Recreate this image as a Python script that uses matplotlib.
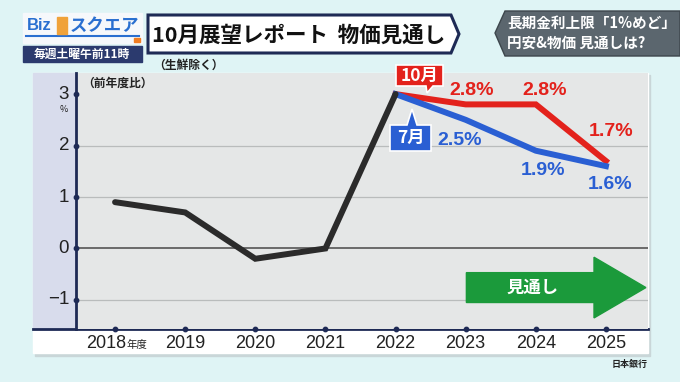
import matplotlib
matplotlib.use("Agg")
import matplotlib.pyplot as plt
from matplotlib.patches import Rectangle, Polygon, FancyArrow

plt.rcParams['font.family'] = ['Noto Sans CJK JP', 'DejaVu Sans']

# data
years_actual = [2018, 2019, 2020, 2021, 2022]
cpi_actual = [0.9, 0.7, -0.2, 0.0, 3.0]
years_fc = [2022, 2023, 2024, 2025]
cpi_oct = [3.0, 2.8, 2.8, 1.7]
cpi_jul = [3.0, 2.5, 1.9, 1.6]
year_ticks = [2018, 2019, 2020, 2021, 2022, 2023, 2024, 2025]
y_ticks = [-1, 0, 1, 2, 3]

W, H = 680, 382
BG = '#dff4f5'
NAVY = '#1e2a55'
RED = '#e3221c'
BLUE = '#2a5fd3'
GREEN = '#1b9a3b'
num_font = ['Liberation Sans', 'DejaVu Sans']

fig = plt.figure(figsize=(W / 100, H / 100), dpi=100)
fig.patch.set_facecolor(BG)

# background / decoration layer in pixel coords
bg = fig.add_axes([0, 0, 1, 1], zorder=0)
bg.set_xlim(0, W)
bg.set_ylim(H, 0)
bg.axis('off')

# panel: shadow, white strip, lavender band
bg.add_patch(Rectangle((35, 75), 615, 281, color='#c9d6d8', zorder=1))
bg.add_patch(Rectangle((33, 73), 615, 280, color='white', zorder=2))
bg.add_patch(Rectangle((33, 73), 43, 256, color='#d8dcec', zorder=3))

# logo
bg.add_patch(Rectangle((23, 13), 119, 30, color='#f6f8fb', zorder=2))
bg.plot([26, 139], [36, 36], color='#2a6fd0', lw=1.5, zorder=3)
bg.text(27, 26, 'Biz', color='#2a6fd0', fontsize=12, weight='bold', va='center',
        family=num_font, zorder=4)
bg.add_patch(Rectangle((57, 17), 10, 17, color='#f0a23a', zorder=3))
bg.text(70, 26, 'スクエア', color='#2a6fd0', fontsize=12.5, weight='bold',
        va='center', zorder=4)
bg.add_patch(Rectangle((134, 38), 6, 4, color='#f07d22', zorder=4))
bg.add_patch(Rectangle((23, 46), 119, 16, color='#2b3a6e', zorder=2))
bg.text(82, 54, '毎週土曜午前11時', color='white', fontsize=8.5, weight='bold',
        ha='center', va='center', zorder=3)

# title box
bg.add_patch(Polygon([(148, 15), (451, 15), (459, 34), (451, 53), (148, 53)],
                     closed=True, facecolor='white', edgecolor=NAVY, lw=2.2, zorder=2))
bg.text(152, 35, '10月展望レポート  物価見通し', color='#111111', fontsize=15.5,
        weight='bold', va='center', zorder=3)
bg.text(153, 65, '（生鮮除く）', color='#222222', fontsize=8.5, weight='bold',
        va='center', ha='left', zorder=3)

# right tag
bg.add_patch(Polygon([(495, 33), (505, 11), (680, 11), (680, 56), (505, 56)],
                     closed=True, facecolor='#5b666e', edgecolor='#3d464c', lw=1, zorder=2))
bg.text(507, 23, '長期金利上限「1%めど」', color='white', fontsize=10.5,
        weight='bold', ha='left', va='center', zorder=3)
bg.text(507, 43, '円安&物価 見通しは?', color='white', fontsize=10.5,
        weight='bold', ha='left', va='center', zorder=3)

bg.text(648, 364, '日本銀行', color='#222222', fontsize=6.5, weight='bold',
        ha='right', va='center', zorder=3)

# main chart
ax = fig.add_axes([76 / W, 1 - 329 / H, (648 - 76) / W, (329 - 73) / H], zorder=2)
ax.set_facecolor('#e5e7e7')
ax.set_xlim(2017.443, 2025.6)
ax.set_ylim(-1.565, 3.41)

for v in y_ticks:
    if v == 3:
        continue
    ax.axhline(v, color='#555555' if v == 0 else '#b9bcbc',
               lw=1.2 if v == 0 else 0.9, zorder=1)

for s in ['top', 'right', 'bottom']:
    ax.spines[s].set_visible(False)
ax.spines['left'].set_color(NAVY)
ax.spines['left'].set_linewidth(2)
ax.set_xticks([])
ax.set_yticks([])

# bottom axis line extends over lavender band
bg.plot([33, 648], [329, 329], color=NAVY, lw=2, zorder=5)

# tick dots
x0, x1 = ax.get_xlim()
y0, y1 = ax.get_ylim()
ax.scatter([x0] * len(y_ticks), y_ticks, s=10, color=NAVY, clip_on=False, zorder=6)
ax.scatter(year_ticks, [y0] * len(year_ticks), s=10, color=NAVY, clip_on=False, zorder=6)

for v in y_ticks:
    ax.annotate('\u2212' + str(abs(v)) if v < 0 else str(v), (x0, v),
                xytext=(-5, 0), textcoords='offset points', ha='right', va='center',
                fontsize=13.5, color='#222222', annotation_clip=False,
                family=num_font)
ax.annotate('%', (x0, 3), xytext=(-9, -11), textcoords='offset points',
            ha='center', va='center', fontsize=6.5, color='#222222',
            annotation_clip=False)
ax.text(0.01, 0.985, '（前年度比）', transform=ax.transAxes, fontsize=8.5,
        weight='bold', color='#222222', va='top', ha='left')

for yr in year_ticks:
    if yr == year_ticks[0]:
        ax.annotate(str(yr), (yr, y0), xytext=(8, -10.5), textcoords='offset points',
                    ha='right', va='center', fontsize=13, color='#222222',
                    annotation_clip=False, family=num_font)
        ax.annotate('年度', (yr, y0), xytext=(8.5, -11.5), textcoords='offset points',
                    ha='left', va='center', fontsize=7.5, color='#222222',
                    annotation_clip=False)
    else:
        ax.annotate(str(yr), (yr, y0), xytext=(0, -10.5), textcoords='offset points',
                    ha='center', va='center', fontsize=13, color='#222222',
                    annotation_clip=False, family=num_font)

# lines
ax.plot(years_fc, cpi_oct, color=RED, lw=4.3, solid_joinstyle='miter', zorder=4)
ax.plot(years_fc, cpi_jul, color=BLUE, lw=4.3, solid_joinstyle='miter', zorder=5)
ax.plot(years_actual, cpi_actual, color='#2b2b2b', lw=4.3, solid_joinstyle='miter',
        solid_capstyle='round', zorder=6)

# value labels
oct_offsets = [None, (4, 10), (6, 10), (4, 21)]
jul_offsets = [None, (-4, -15), (5, -14), (3, -13)]
for yr, v, off in zip(years_fc, cpi_oct, oct_offsets):
    if off is None:
        continue
    ax.annotate(f'{v:.1f}%', (yr, v), xytext=off, textcoords='offset points',
                ha='center', va='center', fontsize=14, weight='bold', color=RED,
                family=num_font, zorder=8)
for yr, v, off in zip(years_fc, cpi_jul, jul_offsets):
    if off is None:
        continue
    ax.annotate(f'{v:.1f}%', (yr, v), xytext=off, textcoords='offset points',
                ha='center', va='center', fontsize=14, weight='bold', color=BLUE,
                family=num_font, zorder=8)

# month callouts (pixel layer, above chart)
top = fig.add_axes([0, 0, 1, 1], zorder=3)
top.set_xlim(0, W)
top.set_ylim(H, 0)
top.axis('off')
top.add_patch(Polygon([(396, 65), (443, 65), (443, 86), (433, 86), (427, 93),
                       (426, 86), (396, 86)], closed=True, facecolor=RED,
                      edgecolor='white', lw=1.2, zorder=2))
top.text(419.5, 75.5, '10月', color='white', fontsize=12.5, weight='bold',
         ha='center', va='center', zorder=3)
top.add_patch(Polygon([(390, 125), (407, 125), (412, 109), (417, 125), (431, 125),
                       (431, 151), (390, 151)], closed=True, facecolor=BLUE,
                      edgecolor='white', lw=1.2, zorder=2))
top.text(410.5, 138, '7月', color='white', fontsize=12.5, weight='bold',
         ha='center', va='center', zorder=3)

# forecast arrow
ax.add_patch(FancyArrow(2023.01, -0.76, 2025.57 - 2023.01, 0, width=0.58,
                        head_width=1.18, head_length=2025.57 - 2024.83,
                        length_includes_head=True, color=GREEN, zorder=3))
ax.text(2023.95, -0.76, '見通し', color='white', fontsize=12.5, weight='bold',
        ha='center', va='center', zorder=4)

fig.savefig('out.png', dpi=100, facecolor=fig.get_facecolor())
